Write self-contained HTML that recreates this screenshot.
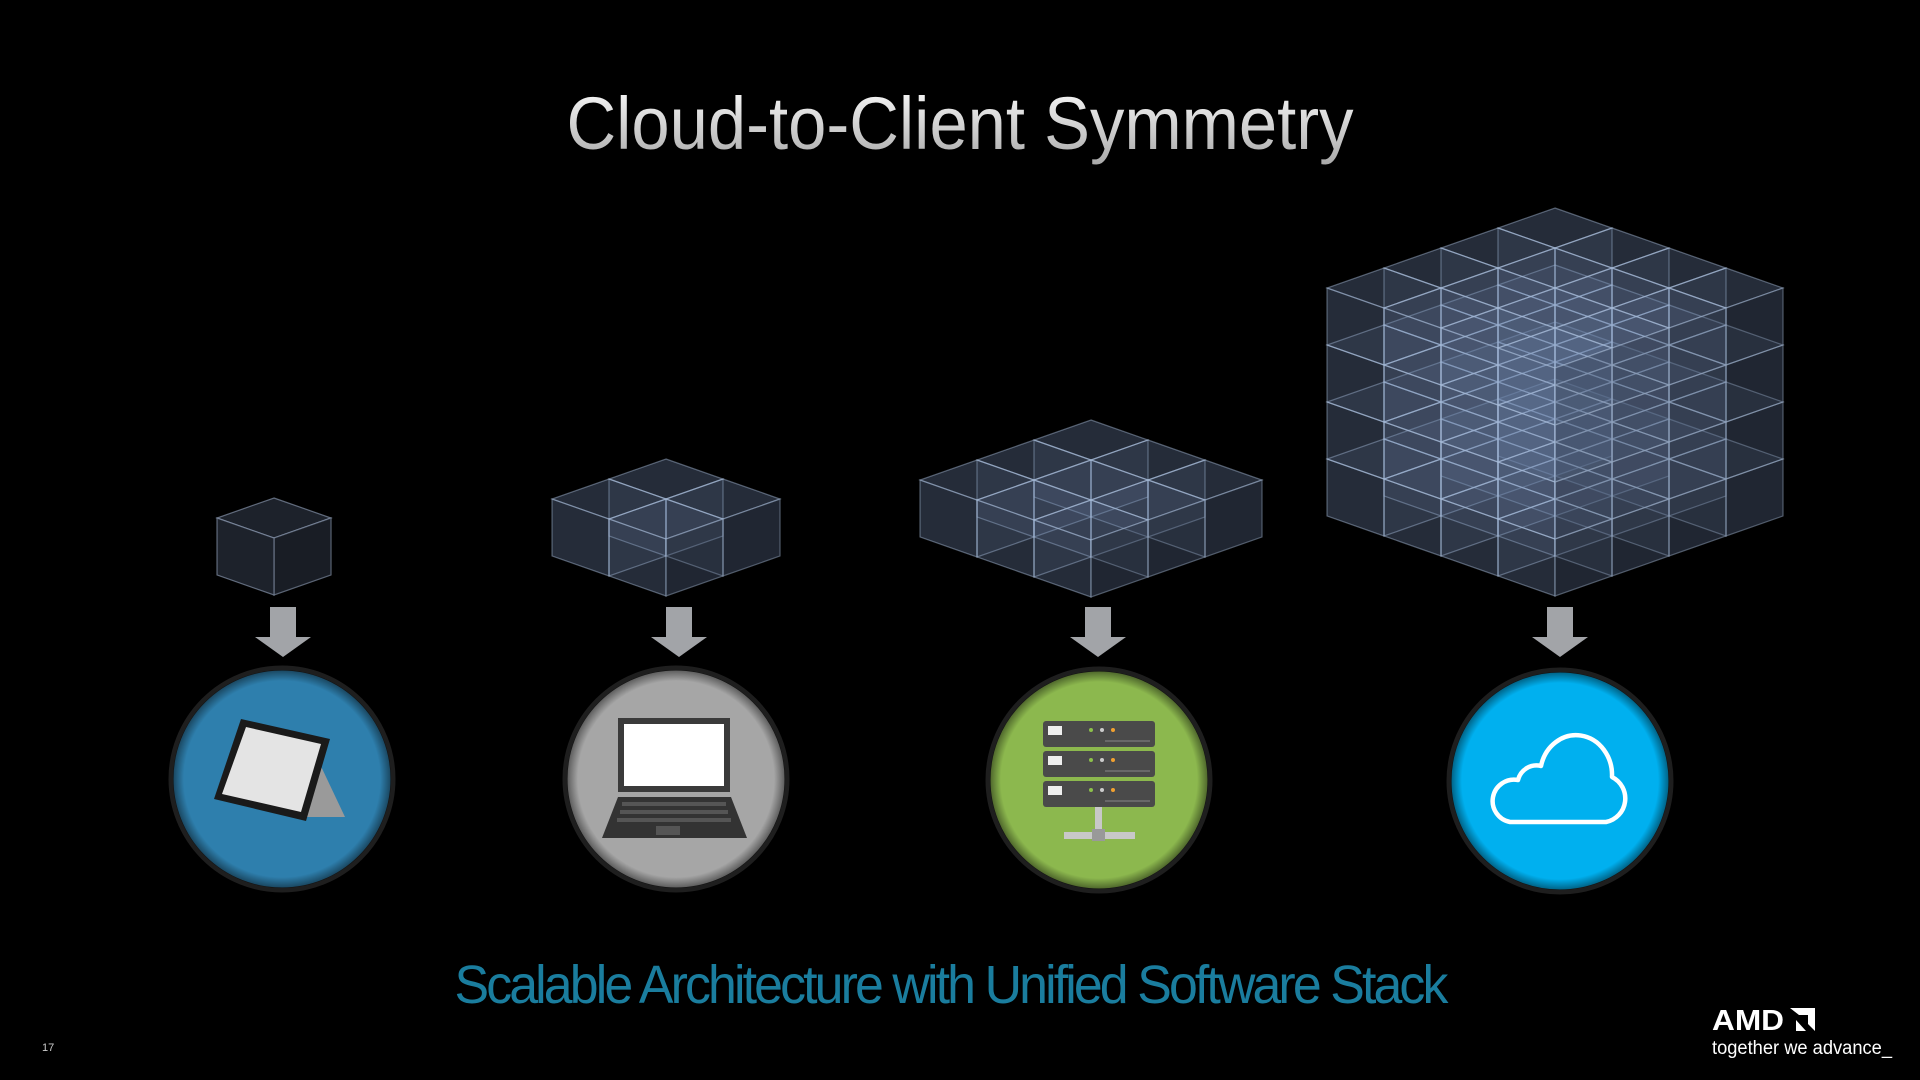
<!DOCTYPE html>
<html><head><meta charset="utf-8"><style>
html,body{margin:0;padding:0;background:#000;}
svg{display:block}
</style></head><body>
<svg id="s" width="1920" height="1080" viewBox="0 0 1920 1080" xmlns="http://www.w3.org/2000/svg">
<defs>
<linearGradient id="tg" x1="0" y1="0" x2="0" y2="1">
<stop offset="0" stop-color="#ffffff"/><stop offset="1" stop-color="#a8a8a8"/>
</linearGradient>
<radialGradient id="rim" cx="0.5" cy="0.5" r="0.5">
<stop offset="0.9" stop-color="#000" stop-opacity="0"/><stop offset="1" stop-color="#000" stop-opacity="0.45"/>
</radialGradient>
</defs>
<rect width="1920" height="1080" fill="#000"/>
<text x="960" y="149" text-anchor="middle" font-family="Liberation Sans, sans-serif" font-size="74" fill="url(#tg)" textLength="787" lengthAdjust="spacingAndGlyphs">Cloud-to-Client Symmetry</text>
<g id="cubes"></g>
<!-- arrows -->
<g fill="#a2a4a8">
<path d="M270,607h26v30h15l-28,20l-28,-20h15z"/>
<path d="M666,607h26v30h15l-28,20l-28,-20h15z"/>
<path d="M1085,607h26v30h15l-28,20l-28,-20h15z"/>
<path d="M1547,607h26v30h15l-28,20l-28,-20h15z"/>
</g>
<!-- circles -->
<g stroke="#1e1e1e" stroke-width="5">
<circle cx="282" cy="779" r="111" fill="#2e7fad"/>
<circle cx="676" cy="779" r="111" fill="#a6a6a6"/>
<circle cx="1099" cy="780" r="111" fill="#8cb84e"/>
<circle cx="1560" cy="781" r="111" fill="#00b0ef"/>
</g>
<g fill="url(#rim)">
<circle cx="282" cy="779" r="109"/><circle cx="676" cy="779" r="109"/>
<circle cx="1099" cy="780" r="109"/><circle cx="1560" cy="781" r="109"/>
</g>
<!-- tablet -->
<polygon points="318,760 345,817 302,817" fill="#9a9a9a"/>
<polygon points="241,719 330,739 306,821 214,799" fill="#1a1a1a"/>
<polygon points="246,727 321,744 301,812 222,794" fill="#e4e4e4"/>
<!-- laptop -->
<rect x="618" y="718" width="112" height="74" fill="#3a3a3a"/>
<rect x="624" y="724" width="100" height="62" fill="#fff"/>
<polygon points="618,797 731,797 747,838 602,838" fill="#333"/>
<g fill="#555">
<rect x="622" y="802" width="104" height="4"/><rect x="620" y="810" width="108" height="4"/>
<rect x="617" y="818" width="114" height="4"/><rect x="656" y="826" width="24" height="9"/>
</g>
<!-- server -->
<g>
<rect x="1043" y="721" width="112" height="26" rx="3" fill="#4a4a4a"/>
<rect x="1043" y="751" width="112" height="26" rx="3" fill="#4a4a4a"/>
<rect x="1043" y="781" width="112" height="26" rx="3" fill="#4a4a4a"/>
<g fill="#eee"><rect x="1048" y="726" width="14" height="9"/><rect x="1048" y="756" width="14" height="9"/><rect x="1048" y="786" width="14" height="9"/></g>
<g fill="#8cc04a"><circle cx="1091" cy="730" r="2"/><circle cx="1091" cy="760" r="2"/><circle cx="1091" cy="790" r="2"/></g>
<g fill="#ccc"><circle cx="1102" cy="730" r="2"/><circle cx="1102" cy="760" r="2"/><circle cx="1102" cy="790" r="2"/></g>
<g fill="#f0a030"><circle cx="1113" cy="730" r="2"/><circle cx="1113" cy="760" r="2"/><circle cx="1113" cy="790" r="2"/></g>
<g stroke="#888" stroke-width="1"><line x1="1105" y1="741" x2="1150" y2="741"/><line x1="1105" y1="771" x2="1150" y2="771"/><line x1="1105" y1="801" x2="1150" y2="801"/></g>
<rect x="1095" y="807" width="7" height="27" fill="#c8c8c8"/>
<rect x="1064" y="832" width="71" height="7" fill="#c8c8c8"/>
<rect x="1092" y="829" width="13" height="12" fill="#999"/>
</g>
<!-- cloud -->
<path d="M1510,822 H1606 A24,24 0 0 0 1612,777 A36,40 0 0 0 1541,766 A19,19 0 0 0 1518,780 A21,21 0 0 0 1510,822 Z" fill="none" stroke="#fff" stroke-width="4.5" stroke-linejoin="round"/>
<!-- bottom text -->
<text x="950" y="1003" text-anchor="middle" font-family="Liberation Sans, sans-serif" font-size="54" fill="#1a7d9e" textLength="991" lengthAdjust="spacingAndGlyphs" letter-spacing="-3">Scalable Architecture with Unified Software Stack</text>
<text x="42" y="1051" font-family="Liberation Sans, sans-serif" font-size="11" fill="#ccc">17</text>
<text x="1712" y="1030" font-family="Liberation Sans, sans-serif" font-weight="bold" font-size="29" fill="#fff" textLength="72" lengthAdjust="spacingAndGlyphs">AMD</text>
<path d="M1790,1008 h25 v23 l-7,-7 v-9 h-9 z M1806,1031 h-10 v-11 z" fill="#fff"/>
<text x="1712" y="1054" font-family="Liberation Sans, sans-serif" font-size="19" fill="#fff" textLength="180" lengthAdjust="spacingAndGlyphs">together we advance_</text>
</svg>
<script>
(function(){
var g=document.getElementById('cubes'),NS='http://www.w3.org/2000/svg';
var w=57,d=20,h=57;
function poly(pts,fill,stroke,op){var p=document.createElementNS(NS,'polygon');
p.setAttribute('points',pts.map(function(a){return a[0].toFixed(1)+','+a[1].toFixed(1)}).join(' '));
p.setAttribute('fill',fill);if(op!==undefined)p.setAttribute('fill-opacity',op);
p.setAttribute('stroke',stroke);p.setAttribute('stroke-width','1.2');g.appendChild(p);}
function build(cx,top,n,m){
 // n x n footprint, m layers
 var Z=m;
 function P(x,y,z){return [cx+(x-y)*w, top+(x+y)*d+(Z-z)*h];}
 // silhouette base
 poly([P(0,0,Z),P(n,0,Z),P(n,0,0),P(n,n,0),P(0,n,0),P(0,n,Z)],'#1b2029','none');
 var inner = n>1;
 for(var z=0;z<m;z++)for(var s=0;s<=2*(n-1);s++)for(var x=0;x<n;x++){var y=s-x;if(y<0||y>=n)continue;
  var edge=(x==n-1||y==n-1||z==m-1||x==0||y==0);
  var f=inner?'#6f86a8':'#1d222b', op=inner?0.13:1, st=inner?'rgba(170,190,220,0.45)':'rgba(150,165,190,0.6)';
  // top
  poly([P(x,y,z+1),P(x+1,y,z+1),P(x+1,y+1,z+1),P(x,y+1,z+1)],f,st,op);
  // right face (x+1 side)
  poly([P(x+1,y,z+1),P(x+1,y+1,z+1),P(x+1,y+1,z),P(x+1,y,z)],f,st,op);
  // left face (y+1 side)
  poly([P(x,y+1,z+1),P(x+1,y+1,z+1),P(x+1,y+1,z),P(x,y+1,z)],f,st,op);
 }
 // outer shading on right side of silhouette
 poly([P(n,0,Z),P(n,n,Z),P(n,n,0),P(n,0,0)],'#000','none',0.12);
}
build(274,498,1,1);
build(666,459,2,1);
build(1091,420,3,1);
build(1555,208,4,4);
})();
</script>
</body></html>
